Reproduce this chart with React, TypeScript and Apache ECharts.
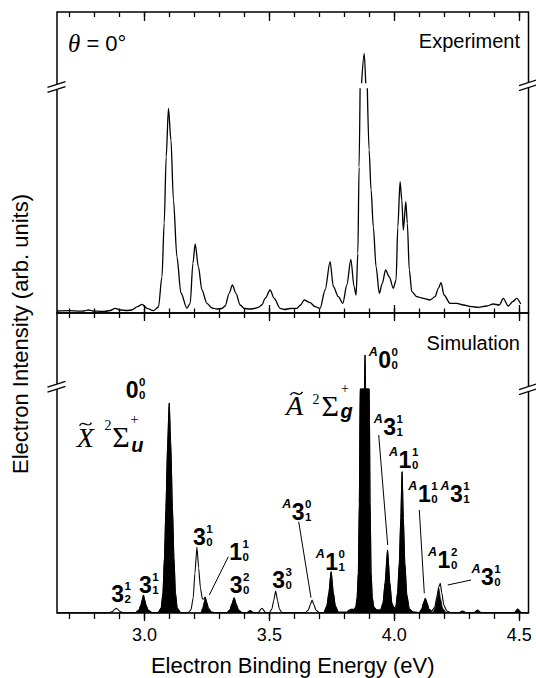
import React, { useEffect, useRef } from 'react';
import * as echarts from 'echarts';

const SANS = '"Liberation Sans", Arial, Helvetica, sans-serif';
const SERIF = '"Liberation Serif", "Times New Roman", "DejaVu Serif", serif';

const X_MIN = 2.65;
const X_MAX = 4.537;
const minorTicks = [2.7, 2.8, 2.9, 3.0, 3.1, 3.2, 3.3, 3.4, 3.5, 3.6, 3.7, 3.8, 3.9, 4.0, 4.1, 4.2, 4.3, 4.4, 4.5];
const majorTicks = [3.0, 3.5, 4.0, 4.5];

// Experiment (top panel), arbitrary units; null = axis break gap
const expEnergy = [2.65, 2.7, 2.74, 2.756, 2.776, 2.795, 2.81, 2.84, 2.863, 2.883, 2.903, 2.93, 2.95, 2.972, 2.99, 3.01, 3.036, 3.056, 3.07, 3.079, 3.087, 3.096, 3.106, 3.116, 3.13, 3.146, 3.17, 3.183, 3.194, 3.203, 3.216, 3.23, 3.25, 3.27, 3.29, 3.31, 3.323, 3.339, 3.352, 3.366, 3.383, 3.4, 3.423, 3.44, 3.456, 3.47, 3.483, 3.503, 3.519, 3.543, 3.56, 3.583, 3.61, 3.625, 3.639, 3.663, 3.683, 3.703, 3.723, 3.743, 3.756, 3.776, 3.794, 3.81, 3.826, 3.839, 3.847, 3.854, 3.859, 3.863, 3.865, 3.869, 3.8795, 3.8855, 3.889, 3.892, 3.899, 3.907, 3.916, 3.927, 3.94, 3.952, 3.965, 3.98, 3.996, 4.007, 4.014, 4.023, 4.03, 4.036, 4.046, 4.052, 4.06, 4.07, 4.09, 4.116, 4.143, 4.163, 4.176, 4.187, 4.199, 4.223, 4.25, 4.276, 4.31, 4.336, 4.37, 4.396, 4.42, 4.436, 4.456, 4.474, 4.49, 4.506];
const expIntensity = [2, 2.3, 1.8, 2, 3, 2, 1.8, 1.5, 2.5, 4.7, 3, 2.5, 3, 6.3, 8.7, 4.7, 2.3, 6, 36, 90, 156, 204.7, 173, 113, 56, 20, 4.7, 9.7, 49.7, 69, 46, 23, 9.7, 5, 4, 4.5, 7, 19.7, 28, 19.7, 8, 4.5, 4, 4.5, 5.7, 8, 14.7, 23, 14.7, 4.7, 3.5, 4.5, 4.7, 8, 13, 10.3, 6.3, 4.7, 23, 51.3, 26.3, 16.3, 9.7, 28, 53.7, 26.3, 18, 59.7, 146, 224.7, null, 229.7, 259.7, 229.7, null, 224.7, 163, 123, 86, 46, 19.7, 29.7, 43, 36, 24.7, 33, 86, 131.3, 113, 83, 111.3, 89.7, 43, 21.3, 16.3, 14.7, 13, 16.3, 24.7, 30.3, 18, 9.7, 9.7, 8, 6.3, 5.7, 7, 9, 8, 14.7, 7, 11.3, 14.7, 9];

// Simulation total envelope (bottom panel)
const simEnergy = [2.65, 2.75, 2.86, 2.872, 2.88, 2.887, 2.894, 2.902, 2.915, 2.965, 2.978, 2.986, 2.991, 2.996, 3.001, 3.006, 3.014, 3.03, 3.054, 3.067, 3.074, 3.08, 3.086, 3.093, 3.099, 3.105, 3.112, 3.118, 3.124, 3.131, 3.145, 3.175, 3.186, 3.195, 3.202, 3.21, 3.217, 3.224, 3.232, 3.238, 3.243, 3.249, 3.256, 3.268, 3.285, 3.33, 3.342, 3.35, 3.359, 3.367, 3.376, 3.39, 3.41, 3.423, 3.436, 3.455, 3.47, 3.485, 3.5, 3.51, 3.517, 3.525, 3.533, 3.54, 3.55, 3.645, 3.656, 3.664, 3.671, 3.678, 3.686, 3.698, 3.718, 3.73, 3.738, 3.747, 3.756, 3.764, 3.776, 3.81, 3.82, 3.83, 3.838, 3.846, 3.851, 3.856, 3.86, 3.8635, 3.8805, 3.8828, 3.885, 3.8995, 3.903, 3.907, 3.912, 3.918, 3.93, 3.945, 3.955, 3.963, 3.973, 3.982, 3.99, 3.998, 4.006, 4.013, 4.02, 4.026, 4.031, 4.036, 4.042, 4.05, 4.06, 4.075, 4.1, 4.11, 4.117, 4.124, 4.131, 4.138, 4.15, 4.162, 4.17, 4.178, 4.184, 4.19, 4.198, 4.21, 4.225, 4.26, 4.273, 4.286, 4.32, 4.333, 4.346, 4.48, 4.494, 4.508, 4.537];
const simIntensity = [0.3, 0.3, 0.3, 1.5, 3.5, 4.7, 3.5, 1.5, 0.3, 0.5, 3, 8, 13, 18, 13, 8, 3, 0.5, 0.5, 5, 20, 55, 105, 170, 210, 170, 105, 55, 20, 5, 0.5, 0.5, 3, 15, 40, 66, 45, 25, 14, 14, 16, 11, 5, 1, 0.5, 0.5, 3, 9, 15.3, 9, 3, 0.5, 0.5, 2.5, 0.5, 0.5, 4.7, 0.5, 0.5, 4, 12, 22, 12, 4, 0.5, 0.5, 3, 8.5, 13, 8.5, 3, 0.5, 0.5, 7, 20, 41.3, 20, 7, 1, 1, 3, 4, 3.5, 6, 15, 40, 110, 224, 224, 258, 224, 224, 110, 40, 15, 6, 3, 3, 10, 30, 63, 30, 10, 5, 6, 20, 50, 95, 141.3, 95, 50, 18, 4, 1, 0.5, 4, 10, 14.7, 10, 4, 2, 6, 16, 26, 29.7, 20, 8, 2, 0.5, 0.5, 2, 0.5, 0.5, 3, 0.5, 0.5, 4, 0.5, 0.3];

// Filled (solid black) components of the simulation
const filledEnergy = [2.65, 2.965, 2.978, 2.986, 2.991, 2.996, 3.001, 3.006, 3.014, 3.03, 3.054, 3.067, 3.074, 3.08, 3.086, 3.093, 3.099, 3.105, 3.112, 3.118, 3.124, 3.131, 3.145, 3.225, 3.233, 3.238, 3.243, 3.249, 3.256, 3.268, 3.28, 3.33, 3.342, 3.35, 3.359, 3.367, 3.376, 3.39, 3.41, 3.423, 3.436, 3.718, 3.73, 3.738, 3.747, 3.756, 3.764, 3.776, 3.81, 3.82, 3.83, 3.838, 3.846, 3.851, 3.856, 3.86, 3.8635, 3.8805, 3.8828, 3.885, 3.8995, 3.903, 3.907, 3.912, 3.918, 3.93, 3.945, 3.955, 3.963, 3.973, 3.982, 3.99, 3.998, 4.006, 4.013, 4.02, 4.026, 4.031, 4.036, 4.042, 4.05, 4.06, 4.075, 4.1, 4.11, 4.117, 4.124, 4.131, 4.138, 4.15, 4.155, 4.163, 4.17, 4.178, 4.185, 4.193, 4.205, 4.215, 4.26, 4.273, 4.286, 4.32, 4.333, 4.346, 4.48, 4.494, 4.508, 4.537];
const filledIntensity = [0, 0, 3, 8, 13, 18, 13, 8, 3, 0, 0, 5, 20, 55, 105, 170, 210, 170, 105, 55, 20, 5, 0, 0, 5, 10, 15.3, 10, 4, 0.5, 0, 0, 3, 9, 15.3, 9, 3, 0, 0, 2.5, 0, 0, 7, 20, 41.3, 20, 7, 0.5, 0.5, 2.5, 3.5, 3, 6, 15, 40, 110, 224, 224, 258, 224, 224, 110, 40, 15, 6, 3, 3, 10, 30, 63, 30, 10, 5, 6, 20, 50, 95, 141.3, 95, 50, 18, 4, 1, 0.5, 4, 10, 14.7, 10, 4, 1, 1, 5, 13, 24.7, 14, 5, 1, 0, 0, 2, 0, 0, 2.5, 0, 0, 4, 0, 0];

// Peak assignment labels (anchor = left/baseline of the main digit)
const peakLabelEnergy = [2.8673, 2.9782, 2.9249, 3.1943, 3.3396, 3.3412, 3.5116, 3.5893, 3.7238, 3.9359, 3.9559, 4.0171, 4.0943, 4.2228, 4.1732, 4.3469];
const peakLabelHeight = [11.3, 19.7, 214.7, 68, 53, 19.7, 25, 93, 43, 244.7, 178, 144.7, 111.3, 111.3, 44.7, 28];
const peakLabelMain = ['3', '3', '0', '3', '1', '3', '3', '3', '1', '0', '3', '1', '1', '3', '1', '3'];
const peakLabelSup = ['1', '1', '0', '1', '1', '2', '3', '0', '0', '0', '1', '1', '1', '1', '2', '1'];
const peakLabelSub = ['2', '1', '0', '0', '0', '0', '0', '1', '1', '0', '1', '0', '0', '1', '0', '0'];
const peakLabelPrefix = ['', '', '', '', '', '', '', 'A', 'A', 'A', 'A', 'A', 'A', 'A', 'A', 'A'];

// Leader lines [E1, I1, E2, I2]
const leaderLines = [
  [3.3356, 56.3, 3.2595, 18],
  [3.6173, 91.3, 3.6665, 15.3],
  [3.9375, 178, 3.9735, 68],
  [4.1, 103, 4.12, 19.7],
  [4.3069, 33, 4.2136, 28],
];

// Electronic state labels
const stateEnergy = [2.7288, 3.5665];
const stateHeight = [166.3, 198];
const stateLetter = ['X', 'A'];
const stateSub = ['u', 'g'];

function mkX(gridIndex: number, position: string, values: number[], length: number, inside: boolean, labels = false, name = '') {
  return {
    type: 'value',
    gridIndex,
    position,
    offset: 0,
    min: X_MIN,
    max: X_MAX,
    axisLine: { show: false },
    splitLine: { show: false },
    axisTick: { show: true, inside, length, customValues: values, lineStyle: { color: '#000', width: 1.3 } },
    axisLabel: labels
      ? { show: true, customValues: majorTicks, formatter: (v: number) => v.toFixed(1), fontSize: 18, color: '#000', margin: 13, fontFamily: SANS }
      : { show: false },
    name,
    nameLocation: 'middle',
    nameGap: 41,
    nameTextStyle: { fontSize: 22, color: '#000', fontFamily: SANS },
  };
}

function txt(x: number, y: number, text: string, style: any) {
  return {
    type: 'text',
    x,
    y,
    style: { text, fill: '#000', fontFamily: SANS, align: 'left', verticalAlign: 'middle', ...style },
  };
}

function tilde(cx: number, cy: number) {
  return {
    type: 'bezierCurve',
    shape: { x1: cx - 6, y1: cy + 1.6, x2: cx + 6, y2: cy - 1.6, cpx1: cx - 2.5, cpy1: cy - 5.5, cpx2: cx + 2.5, cpy2: cy + 5.5 },
    style: { stroke: '#000', lineWidth: 1.4, fill: 'none' },
  };
}

function renderPeakLabel(_params: any, api: any) {
  const i = api.value(2);
  const p = api.coord([api.value(0), api.value(1)]);
  const x = p[0];
  const y = p[1];
  const big = 23;
  const small = 11.5;
  const sx = x + 0.556 * big + 0.5;
  const children: any[] = [
    txt(x, y - 8.2, peakLabelMain[i], { fontSize: big, fontWeight: 'bold' }),
    txt(sx, y - 16, peakLabelSup[i], { fontSize: small, fontWeight: 'bold' }),
    txt(sx, y - 2.9, peakLabelSub[i], { fontSize: small, fontWeight: 'bold' }),
  ];
  if (peakLabelPrefix[i]) {
    children.push(txt(x - 0.5, y - 16, peakLabelPrefix[i], { fontSize: 12.5, fontWeight: 'bold', fontStyle: 'italic', align: 'right' }));
  }
  return { type: 'group', children };
}

function renderStateLabel(_params: any, api: any) {
  const i = api.value(2);
  const p = api.coord([api.value(0), api.value(1)]);
  const x = p[0];
  const y = p[1];
  const isX = i === 0;
  const children: any[] = [
    txt(x, y - 9.3, stateLetter[i], { fontSize: 28, fontFamily: SERIF, fontStyle: 'italic' }),
    tilde(x + (isX ? 8.8 : 10.5), y - (isX ? 22.5 : 21.5)),
    txt(x + (isX ? 27.8 : 26.5), y + (isX ? -21.7 : -16), '2', { fontSize: 14, fontFamily: SERIF }),
    txt(x + 35.5, y - 9.8, 'Σ', { fontSize: 30, fontFamily: SERIF }),
    txt(x + 54.5, y + (isX ? -2 : -4.5), stateSub[i], { fontSize: 20, fontWeight: 'bold', fontStyle: 'italic' }),
    txt(x + (isX ? 53.8 : 55), y + (isX ? -27.7 : -27), '+', { fontSize: 14, fontFamily: SERIF }),
  ];
  return { type: 'group', children };
}

function breakMark(cx: number, cy: number) {
  const s = -0.32;
  const g = 2.5;
  const l = -9.5;
  const r = 8.5;
  const yAt = (dx: number, sign: number) => cy + sign * g + s * dx;
  return [
    {
      type: 'polygon',
      z: 100,
      shape: { points: [[cx + l, yAt(l, -1)], [cx + r, yAt(r, -1)], [cx + r, yAt(r, 1)], [cx + l, yAt(l, 1)]] },
      style: { fill: '#fff', stroke: 'none' },
    },
    { type: 'line', z: 101, shape: { x1: cx + l, y1: yAt(l, -1), x2: cx + r, y2: yAt(r, -1) }, style: { stroke: '#000', lineWidth: 1.3 } },
    { type: 'line', z: 101, shape: { x1: cx + l, y1: yAt(l, 1), x2: cx + r, y2: yAt(r, 1) }, style: { stroke: '#000', lineWidth: 1.3 } },
  ];
}

export default function App() {
  const ref = useRef<HTMLDivElement>(null);

  useEffect(() => {
    if (!ref.current) return;
    const chart = echarts.init(ref.current, null, { renderer: 'svg' });

    const expData = expEnergy.map((e, i) => [e, expIntensity[i]]);
    const simData = simEnergy.map((e, i) => [e, simIntensity[i]]);
    const fillData = filledEnergy.map((e, i) => [e, filledIntensity[i]]);
    const labelData = peakLabelEnergy.map((e, i) => [e, peakLabelHeight[i], i]);
    const stateData = stateEnergy.map((e, i) => [e, stateHeight[i], i]);
    const leaderData = leaderLines.map((l) => ({ coords: [[l[0], l[1]], [l[2], l[3]]] }));

    const option: any = {
      animation: false,
      backgroundColor: '#fff',
      textStyle: { fontFamily: SANS },
      grid: [
        { left: 57, width: 471.5, top: 12, height: 301, show: true, borderColor: '#000', borderWidth: 1.5, backgroundColor: 'transparent' },
        { left: 57, width: 471.5, top: 313, height: 300, show: true, borderColor: '#000', borderWidth: 1.5, backgroundColor: 'transparent' },
      ],
      xAxis: [
        mkX(0, 'bottom', minorTicks, 4.5, true),
        mkX(0, 'bottom', majorTicks, 8, true),
        mkX(0, 'top', minorTicks, 5, true),
        mkX(0, 'top', majorTicks, 9, true),
        mkX(1, 'bottom', minorTicks, 6, false),
        mkX(1, 'bottom', majorTicks, 8, false, true, 'Electron Binding Energy (eV)'),
        mkX(1, 'top', minorTicks, 5, true),
        mkX(1, 'top', majorTicks, 8, true),
      ],
      yAxis: [
        { type: 'value', gridIndex: 0, min: 0, max: 301, show: false },
        { type: 'value', gridIndex: 1, min: 0, max: 300, show: false },
      ],
      series: [
        {
          type: 'line',
          name: 'Experiment',
          xAxisIndex: 0,
          yAxisIndex: 0,
          data: expData,
          symbol: 'none',
          showSymbol: false,
          smooth: 0.3,
          smoothMonotone: 'x',
          connectNulls: false,
          lineStyle: { color: '#000', width: 1.3 },
          z: 3,
        },
        {
          type: 'line',
          name: 'Simulation filled',
          xAxisIndex: 4,
          yAxisIndex: 1,
          data: fillData,
          symbol: 'none',
          showSymbol: false,
          smooth: 0.2,
          smoothMonotone: 'x',
          lineStyle: { color: '#000', width: 0.8 },
          areaStyle: { color: '#000', opacity: 1 },
          z: 2,
        },
        {
          type: 'line',
          name: 'Simulation',
          xAxisIndex: 4,
          yAxisIndex: 1,
          data: simData,
          symbol: 'none',
          showSymbol: false,
          smooth: 0.2,
          smoothMonotone: 'x',
          lineStyle: { color: '#000', width: 1.1 },
          z: 3,
        },
        {
          type: 'lines',
          coordinateSystem: 'cartesian2d',
          xAxisIndex: 4,
          yAxisIndex: 1,
          data: leaderData,
          symbol: ['none', 'none'],
          lineStyle: { color: '#000', width: 1, opacity: 1, curveness: 0 },
          silent: true,
          z: 4,
        },
        {
          type: 'custom',
          xAxisIndex: 4,
          yAxisIndex: 1,
          data: labelData,
          encode: { x: 0, y: 1 },
          renderItem: renderPeakLabel,
          clip: false,
          silent: true,
          z: 5,
        },
        {
          type: 'custom',
          xAxisIndex: 4,
          yAxisIndex: 1,
          data: stateData,
          encode: { x: 0, y: 1 },
          renderItem: renderStateLabel,
          clip: false,
          silent: true,
          z: 5,
        },
      ],
      graphic: [
        {
          type: 'text',
          z: 100,
          x: 68,
          y: 43.3,
          style: {
            text: '{t|θ}{n| = 0°}',
            verticalAlign: 'middle',
            align: 'left',
            rich: {
              t: { fontFamily: SERIF, fontStyle: 'italic', fontSize: 25, fill: '#000' },
              n: { fontFamily: SANS, fontSize: 22, fill: '#000' },
            },
          },
        },
        { type: 'text', z: 100, x: 520, y: 40.5, style: { text: 'Experiment', fontSize: 20, fontFamily: SANS, fill: '#000', align: 'right', verticalAlign: 'middle' } },
        { type: 'text', z: 100, x: 520, y: 342.8, style: { text: 'Simulation', fontSize: 20, fontFamily: SANS, fill: '#000', align: 'right', verticalAlign: 'middle' } },
        {
          type: 'text',
          z: 100,
          x: 20,
          y: 334,
          rotation: Math.PI / 2,
          style: { text: 'Electron Intensity (arb. units)', fontSize: 22, fontFamily: SANS, fill: '#000', align: 'center', verticalAlign: 'middle' },
        },
        ...breakMark(57, 86.9),
        ...breakMark(528.5, 85),
        ...breakMark(57, 386.7),
        ...breakMark(528.5, 389),
      ],
    };

    chart.setOption(option);
    return () => chart.dispose();
  }, []);

  return <div ref={ref} style={{ position: 'fixed', left: 0, top: 0, width: 536, height: 678, background: '#fff' }} />;
}
